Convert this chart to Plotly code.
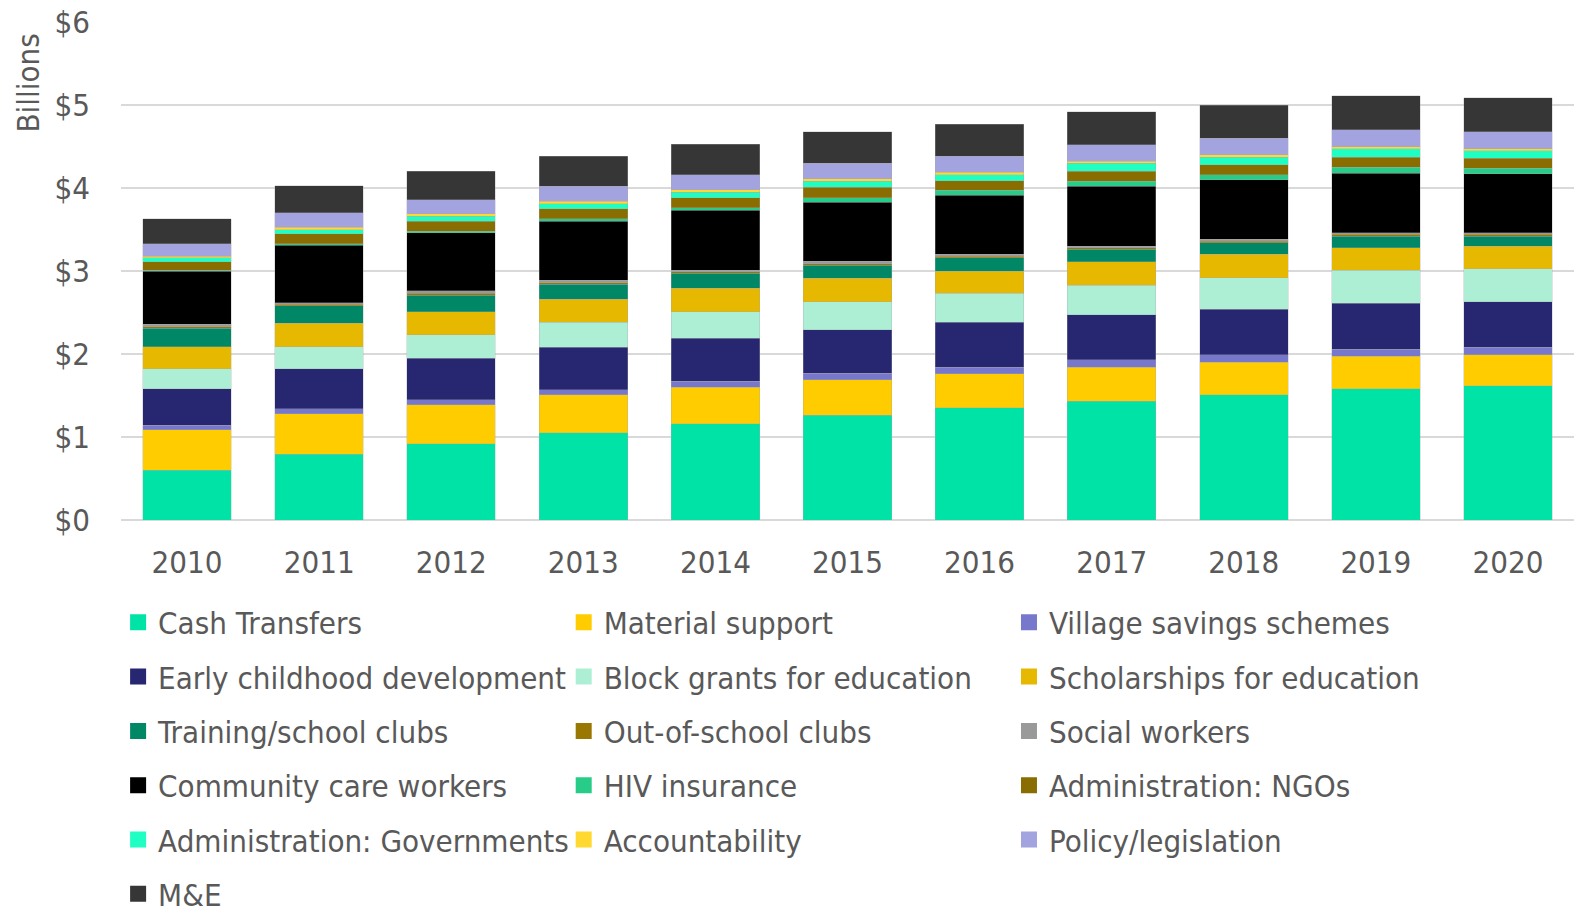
import plotly.graph_objects as go

years = ["2010", "2011", "2012", "2013", "2014", "2015", "2016", "2017", "2018", "2019", "2020"]

# Spending by intervention, US$ billions, stacked bottom to top
cash_transfers     = [0.60, 0.79, 0.92, 1.05, 1.16, 1.26, 1.35, 1.43, 1.51, 1.58, 1.62]
material_support   = [0.49, 0.49, 0.47, 0.46, 0.44, 0.43, 0.41, 0.41, 0.39, 0.39, 0.37]
village_savings    = [0.05, 0.06, 0.06, 0.06, 0.07, 0.08, 0.08, 0.09, 0.09, 0.09, 0.09]
early_childhood    = [0.44, 0.48, 0.50, 0.51, 0.52, 0.52, 0.54, 0.54, 0.55, 0.55, 0.55]
block_grants       = [0.24, 0.27, 0.28, 0.30, 0.32, 0.34, 0.35, 0.36, 0.38, 0.40, 0.40]
scholarships       = [0.27, 0.28, 0.28, 0.28, 0.28, 0.28, 0.27, 0.28, 0.28, 0.27, 0.27]
training_clubs     = [0.22, 0.21, 0.20, 0.18, 0.18, 0.16, 0.16, 0.15, 0.14, 0.14, 0.12]
out_of_school      = [0.02, 0.02, 0.02, 0.02, 0.02, 0.02, 0.02, 0.02, 0.02, 0.02, 0.02]
social_workers     = [0.03, 0.02, 0.03, 0.03, 0.02, 0.03, 0.02, 0.02, 0.02, 0.02, 0.02]
community_care     = [0.64, 0.69, 0.70, 0.71, 0.72, 0.71, 0.71, 0.72, 0.72, 0.72, 0.71]
hiv_insurance      = [0.01, 0.02, 0.02, 0.03, 0.03, 0.05, 0.06, 0.06, 0.06, 0.07, 0.07]
admin_ngos         = [0.10, 0.12, 0.12, 0.12, 0.12, 0.13, 0.12, 0.12, 0.12, 0.12, 0.12]
admin_governments  = [0.05, 0.05, 0.06, 0.06, 0.07, 0.07, 0.07, 0.10, 0.09, 0.10, 0.09]
accountability     = [0.02, 0.03, 0.03, 0.03, 0.03, 0.03, 0.03, 0.02, 0.03, 0.03, 0.02]
policy_legislation = [0.15, 0.17, 0.17, 0.18, 0.18, 0.19, 0.19, 0.20, 0.20, 0.20, 0.21]
m_and_e            = [0.30, 0.33, 0.34, 0.36, 0.37, 0.38, 0.39, 0.40, 0.40, 0.41, 0.41]

series = [
    ("Cash Transfers", cash_transfers, "#00E3A6"),
    ("Material support", material_support, "#FFCC00"),
    ("Village savings schemes", village_savings, "#7777CC"),
    ("Early childhood development", early_childhood, "#262671"),
    ("Block grants for education", block_grants, "#ADEFD5"),
    ("Scholarships for education", scholarships, "#E6B800"),
    ("Training/school clubs", training_clubs, "#008866"),
    ("Out-of-school clubs", out_of_school, "#9A7700"),
    ("Social workers", social_workers, "#999999"),
    ("Community care workers", community_care, "#000000"),
    ("HIV insurance", hiv_insurance, "#26CC88"),
    ("Administration: NGOs", admin_ngos, "#8A6D00"),
    ("Administration: Governments", admin_governments, "#1FFFC4"),
    ("Accountability", accountability, "#FFD92F"),
    ("Policy/legislation", policy_legislation, "#A3A3E0"),
    ("M&E", m_and_e, "#363636"),
]

FONT = "DejaVu Sans Condensed, Liberation Sans Narrow, Noto Sans, sans-serif"
TEXT = "#595959"
FS = 31

fig = go.Figure()
legend_ids = ["legend", "legend2", "legend3"]

for i, (name, vals, color) in enumerate(series):
    fig.add_trace(go.Bar(
        x=years, y=vals, name=name,
        marker=dict(color=color, line=dict(width=0.6, color="rgba(170,170,170,0.55)")),
        showlegend=False, legendgroup=name,
    ))

# legend entries: three columns, filled row by row
for i, (name, vals, color) in enumerate(series):
    fig.add_trace(go.Scatter(
        x=[years[0]], y=[None], mode="markers", name=name,
        marker=dict(symbol="square", size=16, color=color),
        legend=legend_ids[i % 3], legendgroup=name, showlegend=True,
        hoverinfo="skip",
    ))

legend_common = dict(
    orientation="v", xref="container", yref="container",
    xanchor="left", yanchor="top", y=0.344,
    font=dict(family=FONT, size=FS, color=TEXT),
    tracegroupgap=11, bgcolor="rgba(0,0,0,0)", itemwidth=30,
)

fig.update_layout(
    width=1579, height=908,
    margin=dict(l=121, r=5, t=22, b=388, autoexpand=False),
    paper_bgcolor="white", plot_bgcolor="white",
    barmode="stack", bargap=0.33,
    font=dict(family=FONT, size=FS, color=TEXT),
    xaxis=dict(
        type="category", categoryorder="array", categoryarray=years,
        range=[-0.5, len(years) - 0.5],
        showgrid=False, zeroline=False,
        showline=False, ticks="", ticklabelstandoff=21,
        tickfont=dict(family=FONT, size=FS, color=TEXT),
    ),
    yaxis=dict(
        range=[0, 6], dtick=1, tickprefix="$",
        showgrid=True, gridcolor="#D9D9D9", gridwidth=2,
        zeroline=True, zerolinecolor="#D9D9D9", zerolinewidth=2,
        showline=False, ticks="", ticklabelstandoff=30,
        tickfont=dict(family=FONT, size=FS, color=TEXT),
    ),
    legend=dict(x=0.0748, **legend_common),
    legend2=dict(x=0.357, **legend_common),
    legend3=dict(x=0.639, **legend_common),
    annotations=[dict(
        text="Billions", textangle=-90, showarrow=False,
        xref="paper", yref="paper", x=-0.0643, y=0.8775,
        xanchor="center", yanchor="middle",
        font=dict(family=FONT, size=FS, color=TEXT),
    )],
)

fig.write_html("out.html")
